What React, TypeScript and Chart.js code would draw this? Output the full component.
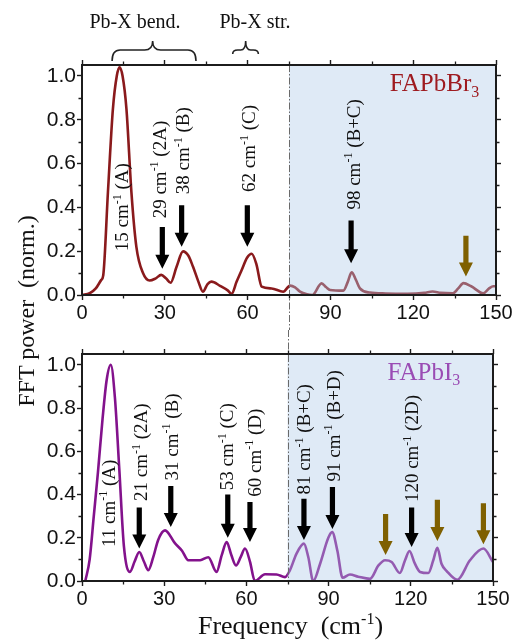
import React, { useEffect, useRef } from "react";
import { Chart, registerables } from "chart.js";
Chart.register(...registerables);

// ---------- data ----------
const xTickValues = [0, 30, 60, 90, 120, 150];
const xMinorValues = [15, 45, 75, 105, 135];
const yTickValues = [0, 0.2, 0.4, 0.6, 0.8, 1.0];
const yMinorValues = [0.1, 0.3, 0.5, 0.7, 0.9];

const freqBr = [0, 2.8, 5.0, 7.0, 7.7, 9.4, 11.2, 12.6, 13.6, 14.7, 16.1, 17.9, 19.7, 22.1, 24.5, 26.6, 28.7, 30.5, 32.1, 34.3, 36.6, 38.5, 40.2, 42.2, 43.8, 45.5, 46.9, 50.0, 52.9, 54.2, 56.0, 57.9, 59.8, 61.5, 63.2, 65.1, 68.7, 72.9, 75.4, 77.2, 79.0, 81.5, 83.5, 86.8, 88.5, 89.9, 94.7, 96.3, 97.7, 99.2, 100.7, 104.3, 110, 118, 124, 127, 130, 134.4, 136.3, 138.2, 141, 145.4, 147.5, 149, 150];
const powerBr = [0, 0.008, 0.03, 0.069, 0.09, 0.47, 0.85, 1.0, 1.04, 1.0, 0.85, 0.47, 0.22, 0.10, 0.066, 0.075, 0.092, 0.075, 0.056, 0.13, 0.199, 0.18, 0.13, 0.06, 0.015, 0.05, 0.061, 0.042, 0.02, 0.005, 0.06, 0.115, 0.17, 0.188, 0.14, 0.038, 0.03, 0.015, 0.043, 0.035, 0.015, 0.003, 0.0, 0.053, 0.035, 0.023, 0.02, 0.06, 0.104, 0.07, 0.03, 0.011, 0.007, 0.006, 0.01, 0.016, 0.01, 0.008, 0.03, 0.054, 0.04, 0.008, 0.03, 0.04, 0.04];

const freqI = [1.2, 2.8, 4.3, 5.8, 7.5, 9.0, 10.5, 12.0, 13.6, 15.3, 17.5, 19.2, 20.9, 22.6, 24.2, 26.0, 27.8, 30.3, 33.9, 36.5, 38.8, 43.1, 46.1, 49.1, 51.0, 52.8, 54.5, 56.2, 57.9, 59.5, 61.3, 63.1, 66.8, 71.0, 74.1, 75.9, 78.3, 81.0, 82.6, 84.4, 86.9, 89.9, 91.3, 93.2, 95.1, 97.8, 100.8, 105.1, 108.2, 110.6, 113.0, 116.0, 117.9, 119.5, 121.5, 123.4, 126.4, 128.2, 129.7, 131.2, 133.1, 137.0, 141.6, 146.5, 150];
const powerI = [0, 0.1, 0.3, 0.5, 0.75, 0.93, 1.0, 0.85, 0.52, 0.16, 0.042, 0.09, 0.134, 0.09, 0.05, 0.11, 0.19, 0.234, 0.175, 0.14, 0.096, 0.096, 0.11, 0.042, 0.12, 0.18, 0.12, 0.072, 0.11, 0.15, 0.09, 0, 0.031, 0.03, 0.018, 0.05, 0.127, 0.173, 0.11, 0, 0.08, 0.2, 0.226, 0.14, 0.015, 0.03, 0.02, 0.01, 0.072, 0.096, 0.088, 0.037, 0.096, 0.139, 0.08, 0.042, 0.037, 0.096, 0.154, 0.08, 0.046, 0.006, 0.096, 0.15, 0.088];

const brPeakLabels = [
  { x: 14.4, y: 0.2, num: "15", mode: "(A)" },
  { x: 27.9, y: 0.35, num: "29", mode: "(2A)" },
  { x: 36.5, y: 0.46, num: "38", mode: "(B)" },
  { x: 60.5, y: 0.47, num: "62", mode: "(C)" },
  { x: 98.2, y: 0.39, num: "98", mode: "(B+C)" },
];
const brArrows = [
  { x: 29.1, top: 0.31, tip: 0.12, kind: 0 },
  { x: 36.1, top: 0.41, tip: 0.22, kind: 0 },
  { x: 59.9, top: 0.41, tip: 0.22, kind: 0 },
  { x: 97.5, top: 0.34, tip: 0.145, kind: 0 },
  { x: 139.1, top: 0.27, tip: 0.084, kind: 1 },
];
const brBraces = [
  { from: 10.9, to: 41.3, tip: 25.6, label: "Pb-X bend.", labelX: 19.2 },
  { from: 54.6, to: 63.9, tip: 59.3, label: "Pb-X str.", labelX: 62.7 },
];

const iPeakLabels = [
  { x: 9.6, y: 0.157, num: "11", mode: "(A)" },
  { x: 21.4, y: 0.37, num: "21", mode: "(2A)" },
  { x: 32.7, y: 0.465, num: "31", mode: "(B)" },
  { x: 52.8, y: 0.42, num: "53", mode: "(C)" },
  { x: 62.8, y: 0.39, num: "60", mode: "(D)" },
  { x: 81.0, y: 0.4, num: "81", mode: "(B+C)" },
  { x: 91.7, y: 0.46, num: "91", mode: "(B+D)" },
  { x: 120.3, y: 0.365, num: "120", mode: "(2D)" },
];
const iArrows = [
  { x: 20.9, top: 0.34, tip: 0.15, kind: 0 },
  { x: 32.4, top: 0.44, tip: 0.25, kind: 0 },
  { x: 53.2, top: 0.4, tip: 0.2, kind: 0 },
  { x: 61.3, top: 0.365, tip: 0.18, kind: 0 },
  { x: 81.0, top: 0.38, tip: 0.19, kind: 0 },
  { x: 91.4, top: 0.435, tip: 0.24, kind: 0 },
  { x: 120.3, top: 0.34, tip: 0.157, kind: 0 },
  { x: 110.8, top: 0.31, tip: 0.12, kind: 1 },
  { x: 129.7, top: 0.376, tip: 0.185, kind: 1 },
  { x: 146.5, top: 0.36, tip: 0.17, kind: 1 },
];

const shadeRange = [75, 150];
const sampleNameX = 111.5;
const sampleNameY = 0.93;

// ---------- styles ----------
const SERIF = "'Liberation Serif', 'Times New Roman', serif";
const SANS = "'Liberation Sans', Arial, sans-serif";
const AXIS_COLOR = "#1c1c1c";
const ARROW_COLORS = ["#000000", "#7f6000"];
const SHADE = "rgba(175,203,232,0.40)";

type Part = { t: string; s?: number };

function drawParts(ctx: CanvasRenderingContext2D, parts: Part[], x: number, y: number, size: number, align: "left" | "center") {
  const main = `${size}px ${SERIF}`;
  const small = `${Math.round(size * 0.62)}px ${SERIF}`;
  let total = 0;
  for (const p of parts) {
    ctx.font = p.s ? small : main;
    total += ctx.measureText(p.t).width;
  }
  let cx = align === "center" ? x - total / 2 : x;
  ctx.textAlign = "left";
  ctx.textBaseline = "alphabetic";
  for (const p of parts) {
    ctx.font = p.s ? small : main;
    const dy = p.s === 1 ? -size * 0.4 : p.s === -1 ? size * 0.22 : 0;
    ctx.fillText(p.t, cx, y + dy);
    cx += ctx.measureText(p.t).width;
  }
}

function drawArrow(ctx: CanvasRenderingContext2D, x: number, yTop: number, yTip: number, color: string) {
  const hw = 7, hl = 14, sw = 2.6;
  ctx.fillStyle = color;
  ctx.beginPath();
  ctx.moveTo(x - sw, yTop);
  ctx.lineTo(x + sw, yTop);
  ctx.lineTo(x + sw, yTip - hl);
  ctx.lineTo(x + hw, yTip - hl);
  ctx.lineTo(x, yTip);
  ctx.lineTo(x - hw, yTip - hl);
  ctx.lineTo(x - sw, yTip - hl);
  ctx.closePath();
  ctx.fill();
}

type Panel = {
  labels: typeof brPeakLabels;
  arrows: typeof brArrows;
  braces: typeof brBraces;
  name: Part[];
  nameColor: string;
  lineDown: boolean;
  xTitle: boolean;
};

function panelPlugin(p: Panel) {
  return {
    id: "panelDeco",
    afterDatasetsDraw(chart: any) {
      const { ctx, chartArea: a, scales } = chart;
      const xs = scales.x, ys = scales.y;
      ctx.save();
      const sx0 = xs.getPixelForValue(shadeRange[0]);
      const sx1 = xs.getPixelForValue(shadeRange[1]);
      ctx.fillStyle = SHADE;
      ctx.fillRect(sx0, a.top, sx1 - sx0, a.bottom - a.top);
      ctx.strokeStyle = "#6a6a6a";
      ctx.lineWidth = 1;
      ctx.setLineDash([7, 2, 1.5, 2]);
      ctx.beginPath();
      const lx = Math.round(sx0) + 0.5;
      if (p.lineDown) {
        ctx.moveTo(lx, a.top);
        ctx.lineTo(lx, chart.height);
      } else {
        ctx.moveTo(lx, 0);
        ctx.lineTo(lx, a.bottom);
      }
      ctx.stroke();
      ctx.setLineDash([]);
      for (const ar of p.arrows) {
        drawArrow(ctx, xs.getPixelForValue(ar.x), ys.getPixelForValue(ar.top), ys.getPixelForValue(ar.tip), ARROW_COLORS[ar.kind]);
      }
      ctx.fillStyle = "#111";
      for (const lb of p.labels) {
        ctx.save();
        ctx.translate(xs.getPixelForValue(lb.x), ys.getPixelForValue(lb.y));
        ctx.rotate(-Math.PI / 2);
        drawParts(ctx, [{ t: lb.num + " cm" }, { t: "-1", s: 1 }, { t: " " + lb.mode }], 0, 6.5, 19, "left");
        ctx.restore();
      }
      ctx.fillStyle = p.nameColor;
      drawParts(ctx, p.name, xs.getPixelForValue(sampleNameX), ys.getPixelForValue(sampleNameY), 25, "left");
      ctx.strokeStyle = "#222";
      ctx.lineWidth = 1.6;
      for (const b of p.braces) {
        const x1 = xs.getPixelForValue(b.from), x2 = xs.getPixelForValue(b.to), xt = xs.getPixelForValue(b.tip);
        const small = x2 - x1 < 40;
        const yEnd = small ? a.top - 11 : a.top - 4;
        const yBar = a.top - 15;
        const yTip = a.top - 24;
        const r = small ? 5 : 8;
        ctx.beginPath();
        ctx.moveTo(x1, yEnd);
        ctx.quadraticCurveTo(x1, yBar, x1 + r, yBar);
        ctx.lineTo(xt - r, yBar);
        ctx.quadraticCurveTo(xt, yBar, xt, yTip);
        ctx.quadraticCurveTo(xt, yBar, xt + r, yBar);
        ctx.lineTo(x2 - r, yBar);
        ctx.quadraticCurveTo(x2, yBar, x2, yEnd);
        ctx.stroke();
        ctx.fillStyle = "#111";
        drawParts(ctx, [{ t: b.label }], xs.getPixelForValue(b.labelX), 28, 20, "center");
      }
      ctx.restore();
    },
    afterDraw(chart: any) {
      const { ctx, chartArea: a, scales } = chart;
      const xs = scales.x, ys = scales.y;
      ctx.save();
      ctx.strokeStyle = AXIS_COLOR;
      ctx.lineWidth = 2;
      ctx.strokeRect(a.left, a.top, a.right - a.left, a.bottom - a.top);
      ctx.lineWidth = 1.3;
      ctx.beginPath();
      for (const v of xMinorValues) {
        const px = Math.round(xs.getPixelForValue(v)) + 0.5;
        ctx.moveTo(px, a.bottom); ctx.lineTo(px, a.bottom + 3.5);
        ctx.moveTo(px, a.top); ctx.lineTo(px, a.top - 3.5);
      }
      for (const v of yMinorValues) {
        const py = Math.round(ys.getPixelForValue(v)) + 0.5;
        ctx.moveTo(a.left, py); ctx.lineTo(a.left - 3.5, py);
        ctx.moveTo(a.right, py); ctx.lineTo(a.right + 3.5, py);
      }
      ctx.stroke();
      if (p.xTitle) {
        ctx.fillStyle = "#111";
        drawParts(ctx, [{ t: "Frequency\u00a0 (cm" }, { t: "-1", s: 1 }, { t: ")" }], (a.left + a.right) / 2 + 3, 304, 26, "center");
      }
      ctx.restore();
    },
  };
}

function makeConfig(xsData: number[], ysData: number[], color: string, sizes: { top: number; bottom: number; left: number; right: number }, panel: Panel): any {
  const grid = { drawOnChartArea: false, drawTicks: true, tickLength: 5, tickWidth: 1.4, tickColor: AXIS_COLOR };
  const setX = (s: any) => { s.ticks = xTickValues.map((v) => ({ value: v })); };
  const setY = (s: any) => { s.ticks = yTickValues.map((v) => ({ value: v })); };
  return {
    type: "line",
    data: {
      datasets: [
        {
          data: xsData.map((x, i) => ({ x, y: ysData[i] })),
          borderColor: color,
          borderWidth: 2.6,
          pointRadius: 0,
          cubicInterpolationMode: "monotone",
          fill: false,
        },
      ],
    },
    options: {
      animation: false,
      responsive: false,
      events: [],
      layout: { padding: 0 },
      plugins: { legend: { display: false }, tooltip: { enabled: false }, title: { display: false } },
      scales: {
        x: {
          type: "linear", position: "bottom", min: 0, max: 150,
          afterBuildTicks: setX,
          ticks: { font: { family: SANS, size: 20 }, color: "#111", padding: 1, maxRotation: 0, autoSkip: false },
          grid, border: { display: false },
          afterFit: (s: any) => { s.height = sizes.bottom; },
        },
        x2: {
          type: "linear", position: "top", min: 0, max: 150,
          afterBuildTicks: setX,
          ticks: { display: false },
          grid, border: { display: false },
          afterFit: (s: any) => { s.height = sizes.top; },
        },
        y: {
          type: "linear", position: "left", min: 0, max: 1.05,
          afterBuildTicks: setY,
          ticks: { font: { family: SANS, size: 21 }, color: "#111", padding: 1, callback: (v: number) => Number(v).toFixed(1) },
          grid, border: { display: false },
          afterFit: (s: any) => { s.width = sizes.left; },
        },
        y2: {
          type: "linear", position: "right", min: 0, max: 1.05,
          afterBuildTicks: setY,
          ticks: { display: false },
          grid, border: { display: false },
          afterFit: (s: any) => { s.width = sizes.right; },
        },
      },
    },
    plugins: [panelPlugin(panel)],
  };
}

export default function App() {
  const topRef = useRef<HTMLCanvasElement>(null);
  const botRef = useRef<HTMLCanvasElement>(null);

  useEffect(() => {
    const c1 = new Chart(
      topRef.current!,
      makeConfig(freqBr, powerBr, "#8a1a1c", { top: 65, bottom: 35, left: 82, right: 20 }, {
        labels: brPeakLabels, arrows: brArrows, braces: brBraces,
        name: [{ t: "FAPbBr" }, { t: "3", s: -1 }], nameColor: "#9e1b20", lineDown: true, xTitle: false,
      })
    );
    const c2 = new Chart(
      botRef.current!,
      makeConfig(freqI, powerI, "#83128c", { top: 24, bottom: 60, left: 82, right: 23 }, {
        labels: iPeakLabels, arrows: iArrows, braces: [],
        name: [{ t: "FAPbI" }, { t: "3", s: -1 }], nameColor: "#9a4cb4", lineDown: false, xTitle: true,
      })
    );
    return () => { c1.destroy(); c2.destroy(); };
  }, []);

  return (
    <div style={{ position: "absolute", left: 0, top: 0, width: 516, height: 641, background: "#fff", overflow: "hidden" }}>
      <canvas ref={topRef} width={516} height={330} style={{ position: "absolute", left: 0, top: 0 }} />
      <canvas ref={botRef} width={516} height={311} style={{ position: "absolute", left: 0, top: 330 }} />
      <div
        style={{
          position: "absolute", left: 26 - 160, top: 311 - 16, width: 320, height: 32, lineHeight: "32px",
          textAlign: "center", transform: "rotate(-90deg)", fontFamily: SERIF, fontSize: 24, color: "#111", whiteSpace: "nowrap",
        }}
      >
        FFT power&nbsp; (norm.)
      </div>
    </div>
  );
}
